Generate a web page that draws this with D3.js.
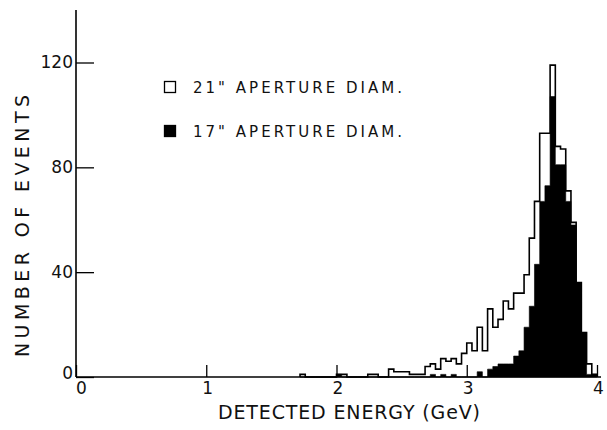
<!DOCTYPE html>
<html>
<head>
<meta charset="utf-8">
<script src="https://cdn.jsdelivr.net/npm/d3@7"></script>
<style>
  body { margin: 0; background: #fff; }
  svg { display: block; }
  text { font-family: "DejaVu Sans", sans-serif; fill: #111; }
</style>
</head>
<body>
<script>
const [w, h] = [607, 430];

// bins are 0.04 GeV wide, first bin starts at 1.72 GeV
const binWidth = 0.04;
const binStart = [
  1.72, 1.76, 1.80, 1.84, 1.88, 1.92, 1.96, 2.00, 2.04, 2.08,
  2.12, 2.16, 2.20, 2.24, 2.28, 2.32, 2.36, 2.40, 2.44, 2.48,
  2.52, 2.56, 2.60, 2.64, 2.68, 2.72, 2.76, 2.80, 2.84, 2.88,
  2.92, 2.96, 3.00, 3.04, 3.08, 3.12, 3.16, 3.20, 3.24, 3.28,
  3.32, 3.36, 3.40, 3.44, 3.48, 3.52, 3.56, 3.60, 3.64, 3.68,
  3.72, 3.76, 3.80, 3.84, 3.88, 3.92, 3.96
];
// 21" aperture (open histogram)
const open21 = [
  1, 0, 0, 0, 0, 0, 0, 1, 1, 0,
  0, 0, 0, 1, 1, 0, 0, 3, 2, 2,
  2, 1, 1, 1, 4, 5, 3, 7, 6, 7,
  5, 9, 13, 10, 19, 10, 26, 19, 22, 29,
  26, 32, 32, 39, 53, 67, 93, 93, 119, 88,
  87, 71, 59, 36, 17, 5, 1
];
// 17" aperture (filled histogram)
const filled17 = [
  0, 0, 0, 0, 0, 0, 0, 1, 0, 0,
  0, 0, 0, 0, 0, 0, 0, 0, 0, 0,
  0, 0, 0, 0, 0, 1, 0, 1, 0, 1,
  0, 0, 0, 0, 2, 0, 3, 4, 5, 5,
  5, 8, 10, 19, 27, 43, 67, 73, 107, 81,
  81, 67, 58, 36, 17, 1, 1
];

const xTicks = [0, 1, 2, 3, 4];
const yTicks = [0, 40, 80, 120];
const legendLabels = ['21" APERTURE DIAM.', '17" APERTURE DIAM.'];

const svg = d3.select('body').append('svg')
  .attr('width', w)
  .attr('height', h);

svg.append('rect').attr('width', w).attr('height', h).attr('fill', '#fff');

const x = d3.scaleLinear().domain([0, 4]).range([76, 597]);
const y = d3.scaleLinear().domain([0, 120]).range([377, 62.5]);

let stepPoints = (counts) => {
  let pts = [[binStart[0], 0]];
  binStart.forEach((b, i) => pts.push([b, counts[i]]));
  pts.push([binStart[binStart.length - 1] + binWidth, 0]);
  return pts;
};

// filled histogram
const area = d3.area()
  .x(d => x(d[0]))
  .y0(y(0))
  .y1(d => y(d[1]))
  .curve(d3.curveStepAfter);

svg.append('path')
  .attr('d', area(stepPoints(filled17)))
  .attr('fill', '#000')
  .attr('stroke', '#000')
  .attr('stroke-width', 0.6);

// open histogram outline
const step = d3.line()
  .x(d => x(d[0]))
  .y(d => y(d[1]))
  .curve(d3.curveStepAfter);

svg.append('path')
  .attr('d', step(stepPoints(open21)))
  .attr('fill', 'none')
  .attr('stroke', '#000')
  .attr('stroke-width', 1.6);

// axes
const yAxis = d3.axisLeft(y)
  .tickValues(yTicks)
  .tickFormat(d3.format('d'))
  .tickSizeInner(-18)
  .tickSizeOuter(0)
  .tickPadding(3);

const xAxis = d3.axisBottom(x)
  .tickValues(xTicks)
  .tickFormat(d3.format('d'))
  .tickSizeInner(-12)
  .tickSizeOuter(0)
  .tickPadding(5);

const gy = svg.append('g').attr('transform', `translate(${x(0)},0)`).call(yAxis);
const gx = svg.append('g').attr('transform', `translate(0,${y(0)})`).call(xAxis);

[gx, gy].forEach(g => {
  g.select('.domain').remove();
  g.selectAll('line').attr('stroke', '#000').attr('stroke-width', 1.3);
  g.selectAll('text').attr('font-size', 17).attr('fill', '#111')
    .style('font-family', '"DejaVu Sans", sans-serif');
});
gx.selectAll('text').attr('dx', (d) => d === 0 ? 5 : 1);
gy.selectAll('text').attr('dy', (d) => d === 0 ? '0.1em' : '0.32em');

svg.append('line')
  .attr('x1', x(0)).attr('x2', x(0))
  .attr('y1', 10).attr('y2', y(0))
  .attr('stroke', '#000').attr('stroke-width', 1.6);

svg.append('line')
  .attr('x1', x(0)).attr('x2', 601)
  .attr('y1', y(0)).attr('y2', y(0))
  .attr('stroke', '#000').attr('stroke-width', 1.6);

// axis titles
svg.append('text')
  .attr('x', 218)
  .attr('y', 419)
  .attr('font-size', 19)
  .attr('textLength', 262)
  .attr('lengthAdjust', 'spacing')
  .text('DETECTED ENERGY (GeV)');

svg.append('text')
  .attr('transform', 'translate(29,357) rotate(-90)')
  .attr('font-size', 19)
  .attr('textLength', 262)
  .attr('lengthAdjust', 'spacing')
  .text('NUMBER OF EVENTS');

// legend
const legend = svg.append('g').selectAll('g')
  .data(legendLabels)
  .enter()
  .append('g')
  .attr('transform', (d, i) => `translate(164,${81 + i * 44})`);

legend.append('rect')
  .attr('x', 0.5).attr('y', 0.5)
  .attr('width', 11).attr('height', 11)
  .attr('fill', (d, i) => i === 0 ? '#fff' : '#000')
  .attr('stroke', '#000')
  .attr('stroke-width', 1.3);

legend.append('text')
  .attr('x', 29)
  .attr('y', 12)
  .attr('font-size', 15)
  .attr('textLength', 209)
  .attr('lengthAdjust', 'spacing')
  .text(d => d);
</script>
</body>
</html>
